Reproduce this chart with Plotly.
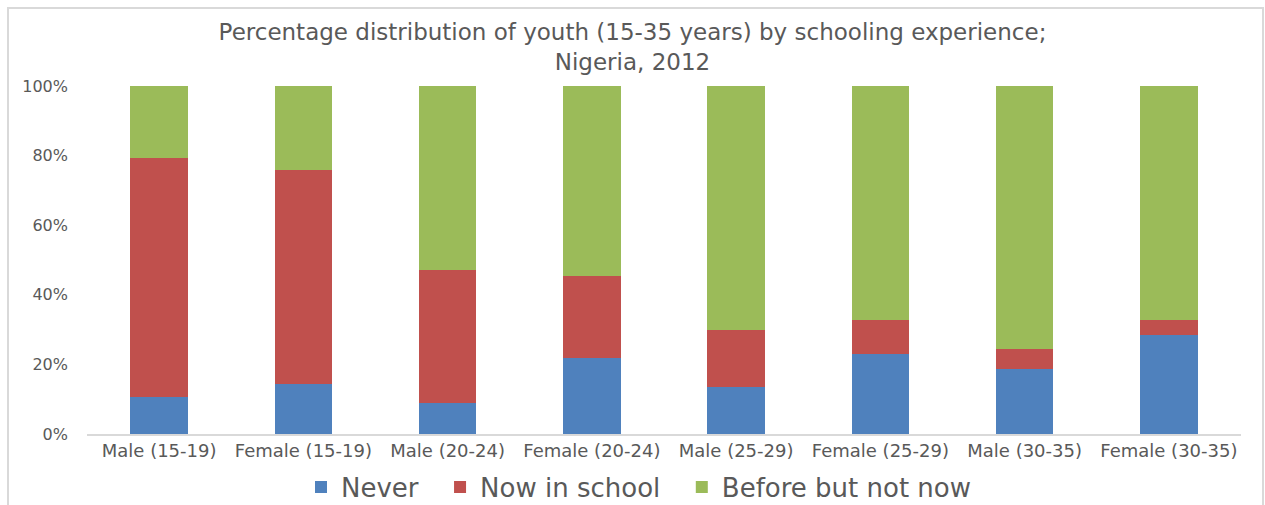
import plotly.graph_objects as go

categories = ["Male (15-19)", "Female (15-19)", "Male (20-24)", "Female (20-24)",
              "Male (25-29)", "Female (25-29)", "Male (30-35)", "Female (30-35)"]
never = [10.5, 14.3, 8.8, 21.7, 13.6, 22.9, 18.6, 28.4]
now_in_school = [68.8, 61.5, 38.4, 23.6, 16.4, 9.8, 5.9, 4.4]
before_not_now = [20.7, 24.2, 52.8, 54.7, 70.0, 67.3, 75.5, 67.2]

y_tick_values = [0, 20, 40, 60, 80, 100]
y_tick_labels = ["0%", "20%", "40%", "60%", "80%", "100%"]

series_names = ["Never", "Now in school", "Before but not now"]
colors = ["#4F81BD", "#C0504D", "#9BBB59"]

W, H = 1265, 505
ml, mr, mt, mb = 87, 24, 86, 71

fig = go.Figure()
for name, vals, col in zip(series_names, [never, now_in_school, before_not_now], colors):
    fig.add_trace(go.Bar(
        x=categories, y=vals, name=name + "  ",
        marker=dict(color=col, line=dict(width=0)),
        width=0.4,
    ))

pw = W - ml - mr
ph = H - mt - mb
def px2paper_x(px):
    return (px - ml) / pw
def px2paper_y(py):
    return (H - mb - py) / ph

fig.update_layout(
    width=W, height=H,
    barmode="stack",
    margin=dict(l=ml, r=mr, t=mt, b=mb, autoexpand=False),
    paper_bgcolor="white", plot_bgcolor="white",
    font=dict(family="DejaVu Sans", color="#595959"),
    title=dict(
        text="Percentage distribution of youth (15-35 years) by schooling experience;<br>Nigeria, 2012",
        x=0.5, xanchor="center", y=1 - 40 / H, yanchor="middle",
        font=dict(size=23, color="#595959", family="DejaVu Sans"),
        automargin=False,
    ),
    xaxis=dict(
        showgrid=False, showline=True, linecolor="#D9D9D9", linewidth=1.5,
        ticks="", tickfont=dict(size=18, color="#595959"),
        range=[-0.5, 7.5], automargin=False,
    ),
    yaxis=dict(
        range=[0, 100], tickmode="array", tickvals=y_tick_values, ticktext=y_tick_labels,
        showgrid=False, showline=False, zeroline=False, ticks="",
        tickfont=dict(size=16, color="#595959"), ticklabelstandoff=18,
        automargin=False,
    ),
    legend=dict(
        orientation="h", x=px2paper_x(647), xanchor="center",
        y=px2paper_y(487), yanchor="middle",
        font=dict(size=26, color="#595959"),
        traceorder="normal", itemwidth=30,
    ),
    shapes=[dict(
        type="rect", xref="paper", yref="paper",
        x0=px2paper_x(8), x1=px2paper_x(1263),
        y0=px2paper_y(520), y1=px2paper_y(8),
        line=dict(color="#D9D9D9", width=2), fillcolor="rgba(0,0,0,0)", layer="below",
    )],
)

fig.write_html("out.html", config={"displayModeBar": False},
               post_script="document.body.style.margin='0';")
